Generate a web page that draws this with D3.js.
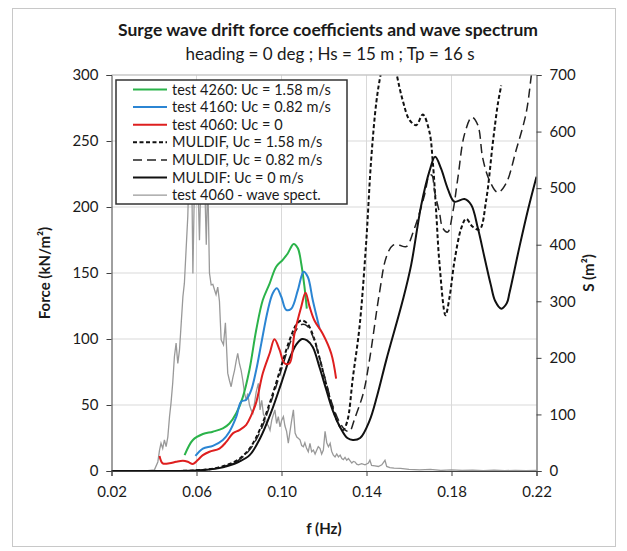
<!DOCTYPE html>
<html>
<head>
<meta charset="utf-8">
<script src="https://cdn.jsdelivr.net/npm/d3@7"></script>
<style>
  body { margin: 0; background: #fff; }
  text { font-family: Lato, "Noto Sans", sans-serif; fill: #1a1a1a; }
</style>
</head>
<body>
<div id="chart"></div>
<script>
// force in kN/m2 against frequency in Hz
const test4260 = [[0.0544,12],[0.0583,23.5],[0.063,28],[0.0677,29.8],[0.0724,32.3],[0.0755,36],[0.0787,43.7],[0.0818,56],[0.0849,76.5],[0.0881,106.8],[0.0912,129.5],[0.0944,142],[0.0975,154.8],[0.1006,160],[0.103,165],[0.1057,172],[0.1077,168.7],[0.1093,157],[0.1108,139.6],[0.1119,123]];
const test4160 = [[0.0595,11.4],[0.063,17],[0.0677,19],[0.0724,23.5],[0.0755,29.8],[0.0787,41],[0.081,52.5],[0.0834,54],[0.0857,61],[0.0881,76.5],[0.0905,96.7],[0.0936,122],[0.0959,134.6],[0.0978,138.4],[0.0999,132],[0.1022,122],[0.1046,123],[0.1077,137],[0.1104,151],[0.1124,147],[0.1147,129.5],[0.1179,108]];
const test4060 = [[0.0426,11.4],[0.0441,5.8],[0.0473,5.8],[0.0504,7],[0.0536,7.8],[0.0559,7],[0.0583,5.3],[0.0606,8.3],[0.063,12],[0.0661,14.6],[0.0708,17],[0.074,22],[0.0771,28.5],[0.0802,31],[0.0834,35],[0.0857,42],[0.0881,52],[0.0912,74],[0.0944,89],[0.0967,99.8],[0.0991,91.7],[0.1014,81.6],[0.1038,81.6],[0.1061,104],[0.1093,124.5],[0.1113,135],[0.1132,124.5],[0.1155,114],[0.1194,104],[0.1234,89],[0.1257,70]];
const muldif158 = [[0.02,0],[0.05,0],[0.06,0.5],[0.065,1.2],[0.07,2.5],[0.075,5],[0.08,9],[0.085,17],[0.09,32],[0.095,54],[0.1,80],[0.104,100],[0.107,111],[0.1093,114],[0.112,112],[0.115,102],[0.118,85],[0.121,66],[0.124,48],[0.127,35],[0.129,31],[0.131,38],[0.1336,71],[0.1367,109],[0.1398,172],[0.1422,236],[0.1446,279],[0.1466,300],[0.1505,330],[0.154,302],[0.157,281],[0.1602,266],[0.1634,262],[0.1665,270],[0.1696,257],[0.1712,234],[0.1728,196],[0.1743,158],[0.1772,118],[0.1791,132],[0.1814,159],[0.1846,184],[0.1869,191],[0.19,185],[0.1932,183],[0.1963,205],[0.1994,248],[0.2018,278],[0.2034,292]];
const muldif082 = [[0.02,0],[0.05,0],[0.06,0.4],[0.065,1],[0.07,2.2],[0.075,4.5],[0.08,8.5],[0.085,16],[0.09,30],[0.095,52],[0.1,77],[0.104,97],[0.107,107],[0.1095,111],[0.112,110],[0.115,101],[0.118,85],[0.121,67],[0.124,50],[0.127,38],[0.13,31],[0.132,30],[0.1345,40],[0.1385,59],[0.1414,84],[0.1461,135],[0.1493,162],[0.1524,171],[0.1555,171],[0.1587,170],[0.1626,184],[0.1673,209],[0.1696,224],[0.1708,224],[0.172,212],[0.1743,196],[0.1759,184],[0.1782,181],[0.1806,196],[0.183,222],[0.1861,255],[0.1896,268],[0.1924,262],[0.1947,237],[0.1979,220],[0.2018,211],[0.2057,218],[0.2104,243],[0.2151,271],[0.2175,299],[0.219,320]];
const muldif0 = [[0.02,0],[0.05,0],[0.06,0.3],[0.065,1],[0.07,2],[0.075,4],[0.08,7],[0.085,12],[0.09,25],[0.095,44],[0.1,67],[0.104,86],[0.107,96],[0.1097,100],[0.112,99],[0.1147,94],[0.118,78],[0.121,62],[0.1241,46],[0.128,32],[0.131,25],[0.1336,23.5],[0.137,25],[0.1414,38],[0.145,57],[0.1493,84],[0.1571,129.5],[0.161,156],[0.1657,201],[0.1696,227],[0.1723,238],[0.1751,229],[0.1782,214],[0.1814,204],[0.1861,206],[0.1893,201.5],[0.1924,184],[0.1955,162],[0.1985,141],[0.2005,129],[0.2034,123],[0.206,127],[0.2073,135],[0.212,170],[0.216,198],[0.22,223]];
// wave spectrum S in m2 (right axis)
const spectrum4060 = [[0.03,0],[0.036,0],[0.038,1],[0.0402,2],[0.0418,16],[0.0426,37],[0.0433,49],[0.0441,40],[0.0449,55],[0.0457,43],[0.0465,60],[0.0473,96],[0.048,120],[0.0488,155],[0.0496,202],[0.0504,226],[0.0512,190],[0.052,214],[0.0528,261],[0.0536,308],[0.0543,332],[0.0551,391],[0.0559,450],[0.0567,560],[0.0575,610],[0.0583,349],[0.0591,520],[0.0598,600],[0.0606,520],[0.0614,408],[0.0622,540],[0.063,610],[0.0638,520],[0.0646,400],[0.0653,520],[0.0661,350],[0.0669,329],[0.0677,330],[0.0685,320],[0.0692,312],[0.07,325],[0.0708,300],[0.0716,232],[0.0727,223],[0.0736,262],[0.0747,173],[0.0755,160],[0.0763,149],[0.0771,165],[0.0779,178],[0.0787,195],[0.0794,208],[0.0802,190],[0.081,178],[0.0818,160],[0.0826,138],[0.0834,125],[0.0841,137],[0.0849,117],[0.0857,108],[0.0865,102],[0.0873,120],[0.0881,140],[0.0891,155],[0.0899,108],[0.0907,125],[0.0915,100],[0.0922,96],[0.093,84],[0.0938,80],[0.0946,72],[0.0954,90],[0.0962,100],[0.0969,108],[0.0977,84],[0.0985,96],[0.0993,78],[0.1001,90],[0.1009,96],[0.1016,80],[0.1024,70],[0.1032,49],[0.104,70],[0.1048,90],[0.1056,108],[0.1064,67],[0.1072,60],[0.1079,58],[0.1087,55],[0.1095,45],[0.1103,43],[0.111,50],[0.1118,40],[0.1126,34],[0.1134,49],[0.1142,34],[0.115,37],[0.1158,30],[0.1166,37],[0.1173,43],[0.1181,40],[0.1189,30],[0.1197,37],[0.1205,70],[0.1213,50],[0.1221,43],[0.1229,49],[0.1236,35],[0.1244,28],[0.1252,25],[0.126,30],[0.1268,25],[0.1276,28],[0.1284,22],[0.1291,20],[0.1299,24],[0.1307,19],[0.1315,22],[0.1323,18],[0.1331,14],[0.1338,17],[0.1346,16],[0.1354,12],[0.1362,11],[0.1377,13],[0.1393,11],[0.1409,14],[0.1416,19],[0.1424,10],[0.144,9],[0.1456,8],[0.1472,11],[0.1487,19],[0.1495,8],[0.151,6],[0.153,5],[0.156,4.8],[0.16,3],[0.165,2],[0.17,3],[0.175,1],[0.18,2],[0.185,1],[0.19,1.5],[0.195,0.8],[0.2,1.5],[0.205,0.5],[0.21,1.2],[0.215,0.8],[0.22,1]];

const xTicks = [0.02, 0.06, 0.10, 0.14, 0.18, 0.22];
const forceTicks = [0, 50, 100, 150, 200, 250, 300];
const specTicks = [0, 100, 200, 300, 400, 500, 600, 700];
const legendLabels = ["test 4260: Uc = 1.58 m/s", "test 4160: Uc = 0.82 m/s", "test 4060: Uc = 0",
  "MULDIF, Uc = 1.58 m/s", "MULDIF, Uc = 0.82 m/s", "MULDIF: Uc = 0 m/s", "test 4060 - wave spect."];

const width = 627;
const height = 551;
const margin = { top: 75, right: 90.5, bottom: 80, left: 111.5 };

const svg = d3.select('#chart')
  .append('svg')
  .attr('width', width)
  .attr('height', height);

// chart area frame
svg.append('rect')
  .attr('x', 12.5).attr('y', 8.5)
  .attr('width', 603).attr('height', 538)
  .attr('fill', 'none').attr('stroke', '#c8c8c8');

const x = d3.scaleLinear()
  .domain([0.02, 0.22])
  .range([margin.left, width - margin.right]);

const y = d3.scaleLinear()
  .domain([0, 300])
  .range([height - margin.bottom, margin.top]);

const y2 = d3.scaleLinear()
  .domain([0, 700])
  .range([height - margin.bottom, margin.top]);

svg.append('clipPath').attr('id', 'plot')
  .append('rect')
  .attr('x', margin.left).attr('y', margin.top)
  .attr('width', x(0.22) - x(0.02)).attr('height', y(0) - y(300));

// grid
svg.append('g')
  .selectAll('line')
  .data(forceTicks.slice(1))
  .join('line')
    .attr('x1', x(0.02)).attr('x2', x(0.22))
    .attr('y1', d => y(d)).attr('y2', d => y(d))
    .attr('stroke', '#d9d9d9');

svg.append('g')
  .selectAll('line')
  .data(xTicks.slice(1, -1))
  .join('line')
    .attr('x1', d => x(d)).attr('x2', d => x(d))
    .attr('y1', y(0)).attr('y2', y(300))
    .attr('stroke', '#d9d9d9');

const plot = svg.append('g').attr('clip-path', 'url(#plot)');

const smooth = d3.line()
  .x(d => x(d[0]))
  .y(d => y(d[1]))
  .curve(d3.curveCatmullRom.alpha(0.5));

const spikey = d3.line()
  .x(d => x(d[0]))
  .y(d => y2(d[1]));

const series = [
  { data: test4260, color: '#2bb34a', width: 2, dash: null },
  { data: test4160, color: '#2b85d3', width: 2, dash: null },
  { data: test4060, color: '#de1f1f', width: 2, dash: null },
  { data: muldif158, color: '#111', width: 2, dash: '4,2.5' },
  { data: muldif082, color: '#222', width: 1.5, dash: '9,5' },
  { data: muldif0, color: '#111', width: 2, dash: null },
];

plot.append('path')
  .datum(spectrum4060)
  .attr('d', spikey)
  .attr('fill', 'none')
  .attr('stroke', '#999')
  .attr('stroke-width', 1.3);

plot.selectAll('path.curve')
  .data(series.slice(3).concat(series.slice(0, 3)))
  .join('path')
    .attr('class', 'curve')
    .attr('d', d => smooth(d.data))
    .attr('fill', 'none')
    .attr('stroke', d => d.color)
    .attr('stroke-width', d => d.width)
    .attr('stroke-dasharray', d => d.dash);

// top border line of the plot
svg.append('line')
  .attr('x1', x(0.02)).attr('x2', x(0.22))
  .attr('y1', y(300)).attr('y2', y(300))
  .attr('stroke', '#bfbfbf');

function yAxis(g) {
  g.attr('transform', `translate(${margin.left},0)`)
    .call(d3.axisLeft(y).tickValues(forceTicks).tickSize(5).tickPadding(8))
    .attr('font-size', '15px');
}

function y2Axis(g) {
  g.attr('transform', `translate(${width - margin.right},0)`)
    .call(d3.axisRight(y2).tickValues(specTicks).tickSize(5).tickPadding(8))
    .attr('font-size', '15px');
}

function xAxis(g) {
  g.attr('transform', `translate(0,${height - margin.bottom})`)
    .call(d3.axisBottom(x).tickValues(xTicks).tickFormat(d3.format('.2f')).tickSize(5).tickPadding(10))
    .attr('font-size', '15px');
}

svg.append('g').call(yAxis);
svg.append('g').call(y2Axis);
svg.append('g').call(xAxis);

svg.selectAll('.tick text').attr('font-family', 'Lato, sans-serif').attr('fill', '#1a1a1a');
svg.selectAll('.domain, .tick line').attr('stroke', '#404040');

// titles
svg.append('text')
  .attr('x', 328).attr('y', 36)
  .attr('text-anchor', 'middle')
  .attr('font-size', '17.5px').attr('font-weight', 'bold')
  .text('Surge wave drift force coefficients and wave spectrum');

svg.append('text')
  .attr('x', 330).attr('y', 60)
  .attr('text-anchor', 'middle')
  .attr('font-size', '17px')
  .text('heading = 0 deg ; Hs = 15 m ; Tp = 16 s');

svg.append('text')
  .attr('x', 324).attr('y', 534)
  .attr('text-anchor', 'middle')
  .attr('font-size', '15px').attr('font-weight', 'bold')
  .text('f (Hz)');

svg.append('text')
  .attr('transform', `translate(50,${(y(0) + y(300)) / 2}) rotate(-90)`)
  .attr('text-anchor', 'middle')
  .attr('font-size', '15px').attr('font-weight', 'bold')
  .text('Force (kN/m²)');

svg.append('text')
  .attr('transform', `translate(594,${(y(0) + y(300)) / 2}) rotate(-90)`)
  .attr('text-anchor', 'middle')
  .attr('font-size', '15px').attr('font-weight', 'bold')
  .text('S (m²)');

// legend
const legend = svg.append('g').attr('transform', 'translate(116,80)');

legend.append('rect')
  .attr('width', 231).attr('height', 124)
  .attr('fill', '#fff')
  .attr('stroke', '#333').attr('stroke-width', 1.5);

const legendItems = series.concat([{ color: '#999', width: 1.3, dash: null }]);

const rows = legend.selectAll('g.row')
  .data(legendItems)
  .join('g')
    .attr('class', 'row')
    .attr('transform', (d, i) => `translate(0,${9.5 + i * 17.6})`);

rows.append('line')
  .attr('x1', 17).attr('x2', 51)
  .attr('stroke', d => d.color)
  .attr('stroke-width', d => d.width)
  .attr('stroke-dasharray', d => d.dash);

rows.append('text')
  .attr('x', 56).attr('dy', '0.35em')
  .attr('font-size', '14.5px')
  .text((d, i) => legendLabels[i]);
</script>
</body>
</html>
